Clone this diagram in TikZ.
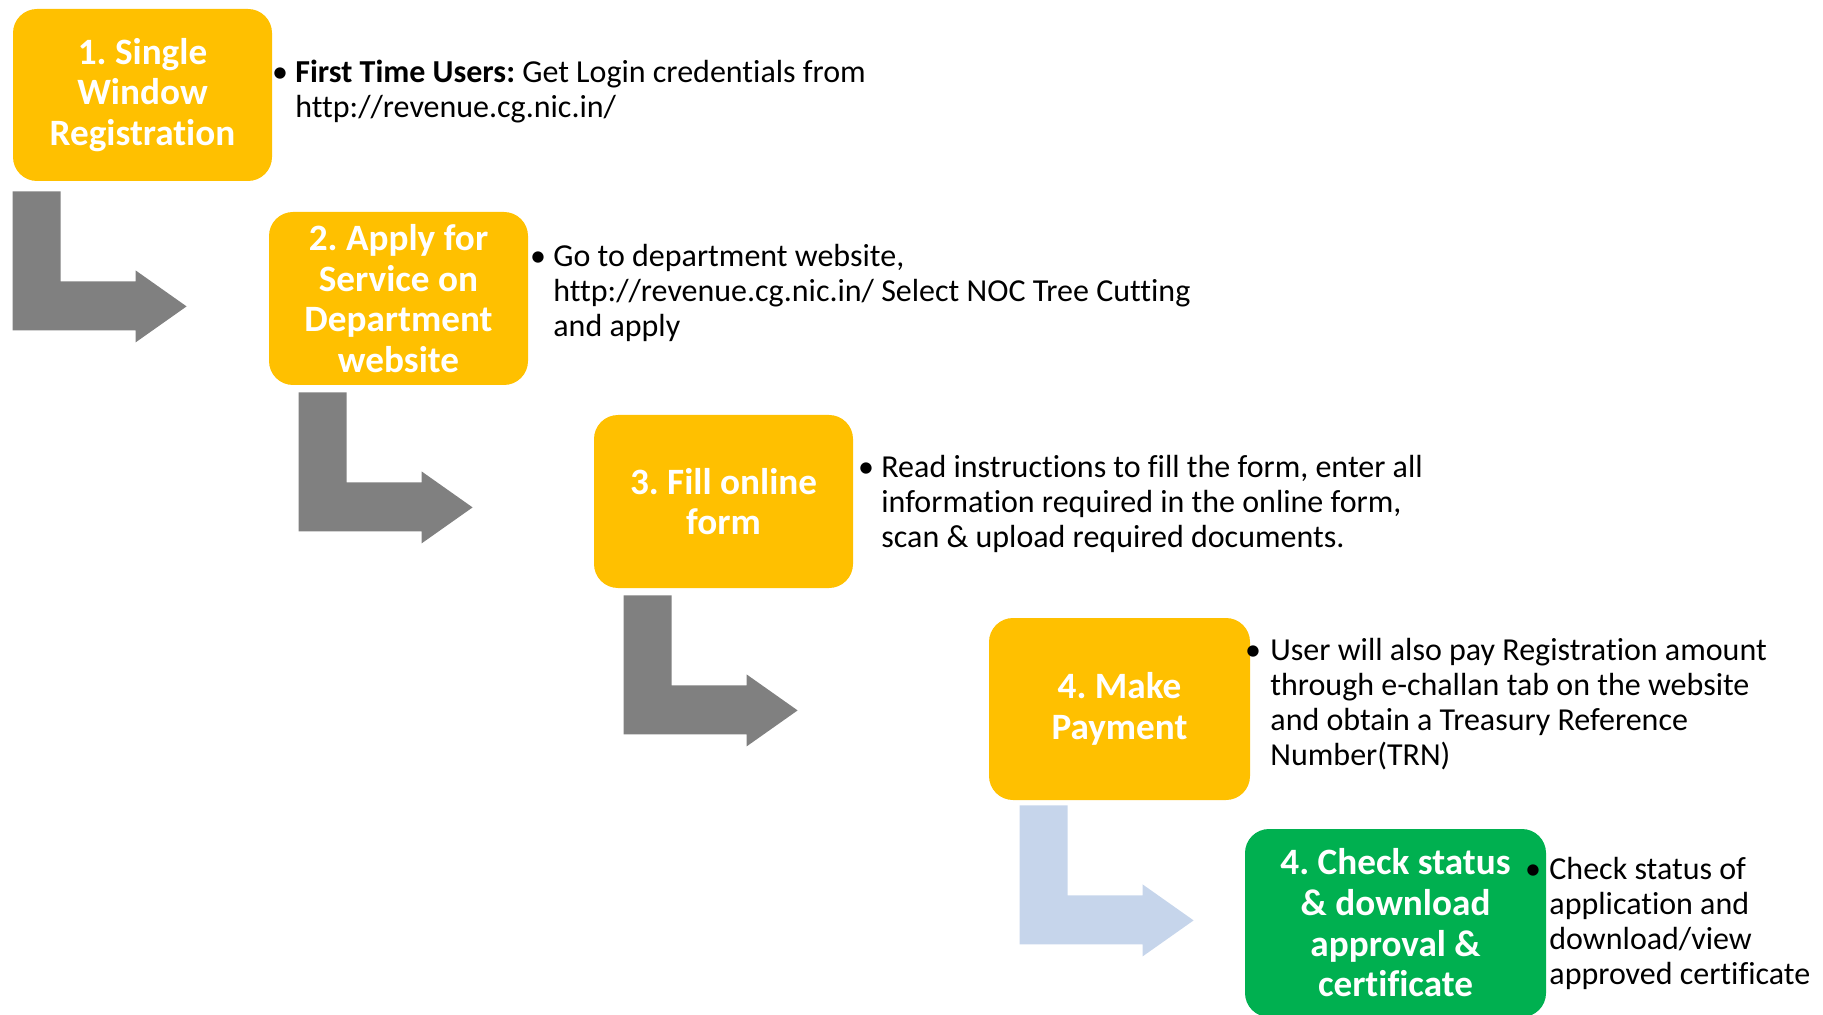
\documentclass[tikz,border=0pt]{standalone}
\usepackage{fontspec}
\setmainfont{Carlito}[Ligatures=NoCommon]
\usetikzlibrary{calc}
\definecolor{boxyellow}{HTML}{FFC000}
\definecolor{arrowgray}{HTML}{808080}
\definecolor{boxgreen}{HTML}{00B050}
\definecolor{arrowblue}{HTML}{C6D5EB}
\frenchspacing
\begin{document}
\begin{tikzpicture}[x=0.5pt,y=-0.5pt,
  stepbox/.style={rounded corners=12pt, fill=boxyellow, text=white, inner sep=0pt,
    font=\bfseries\fontsize{18.6}{20.35}\selectfont, align=center},
  greenbox/.style={stepbox, fill=boxgreen},
  bodytext/.style={anchor=base west, inner sep=0pt, font=\fontsize{16}{17.5}\selectfont},
  bulletdot/.style={anchor=base, inner sep=0pt, font=\fontsize{16}{17.5}\selectfont},
  bentarrow/.pic={\fill[#1] (0,0) -- (48,0) -- (48,90) -- (123,90) -- (123,79) -- (174,115)
     -- (123,151) -- (123,139) -- (0,139) -- cycle;}
]
\useasboundingbox (0,0) rectangle (1823,1015);

% step boxes
\node[stepbox, minimum width=129.5pt, minimum height=86pt] (s1) at (142.5,95)
  {1. Single\\Window\\Registration};
\node[stepbox, minimum width=129.5pt, minimum height=86.5pt] (s2) at (398.5,298.5)
  {2. Apply for\\Service on\\Department\\website};
\node[stepbox, minimum width=129.5pt, minimum height=86.5pt] (s3) at (723.5,501.5)
  {3. Fill online\\form};
\node[stepbox, minimum width=130.5pt, minimum height=91pt] (s4) at (1119.5,709)
  {4. Make\\Payment};
\node[greenbox, minimum width=150.5pt, minimum height=94pt] (s5) at (1395.5,923)
  {4. Check status\\\& download\\approval \&\\certificate};

% bent arrows
\pic at ($(s1.south west)+(0,10)$) {bentarrow=arrowgray};
\pic at ($(s2.south west)+(30,7)$) {bentarrow=arrowgray};
\pic at ($(s3.south west)+(30,7)$) {bentarrow=arrowgray};
\pic at ($(s4.south west)+(31,5)$) {bentarrow=arrowblue};

% descriptions
\node[bulletdot] (b1) at (280,83) {•};
\node[bodytext] (t1) at (295,83) {\begin{tabular}[t]{@{}l@{}}\textbf{First Time Users:} Get Login credentials from\\http://revenue.cg.nic.in/\end{tabular}};
\node[bulletdot] (b2) at (538,267) {•};
\node[bodytext] (t2) at (553,267) {\begin{tabular}[t]{@{}l@{}}Go to department website,\\http://revenue.cg.nic.in/ Select NOC Tree Cutting\\and apply\end{tabular}};
\node[bulletdot] (b3) at (866,477) {•};
\node[bodytext] (t3) at (881,477) {\begin{tabular}[t]{@{}l@{}}Read instructions to fill the form, enter all\\information required in the online form,\\scan \& upload required documents.\end{tabular}};
\node[bulletdot] (b4) at (1253,660) {•};
\node[bodytext] (t4) at (1270,660) {\begin{tabular}[t]{@{}l@{}}User will also pay Registration amount\\through e-challan tab on the website\\and obtain a Treasury Reference\\Number(TRN)\end{tabular}};
\node[bulletdot] (b5) at (1533,879) {•};
\node[bodytext] (t5) at (1549,879) {\begin{tabular}[t]{@{}l@{}}Check status of\\application and\\download/view\\approved certificate\end{tabular}};
\end{tikzpicture}
\end{document}
